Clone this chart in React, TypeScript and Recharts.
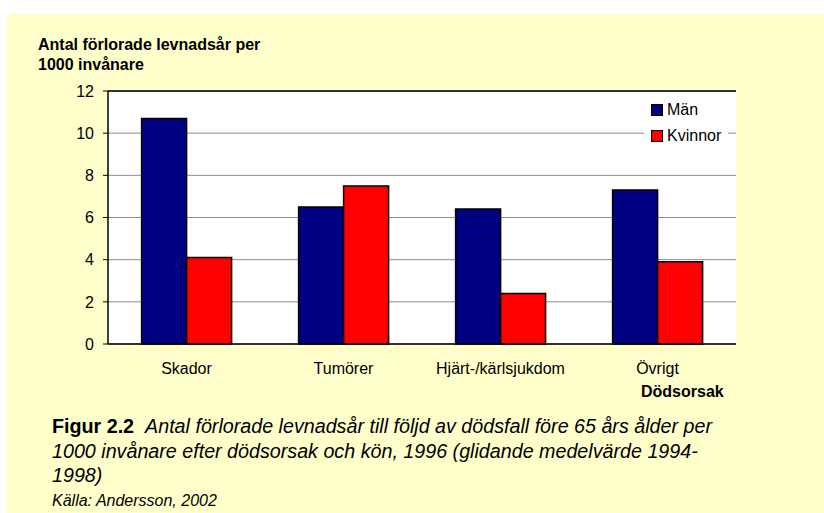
import React from "react";
import {
  BarChart,
  Bar,
  XAxis,
  YAxis,
  CartesianGrid,
  Legend,
  ReferenceLine,
} from "recharts";

// värden
const orsaker = ["Skador", "Tumörer", "Hjärt-/kärlsjukdom", "Övrigt"];
const man = [10.7, 6.5, 6.4, 7.3];
const kvinnor = [4.1, 7.5, 2.4, 3.9];
const yTicks = [0, 2, 4, 6, 8, 10, 12];

const serier = [
  { key: "man", namn: "Män", farg: "#000080" },
  { key: "kvinnor", namn: "Kvinnor", farg: "#FF0000" },
];

const dados = orsaker.map((orsak, i) => ({
  orsak,
  man: man[i],
  kvinnor: kvinnor[i],
}));

const FONT = '"Liberation Sans", Arial, sans-serif';

function Forklaring() {
  return (
    <div
      style={{
        background: "#fff",
        width: 84,
        padding: "0 0 0 7px",
        boxSizing: "border-box",
        fontFamily: FONT,
        fontSize: 16,
        color: "#000",
      }}
    >
      {serier.map((s) => (
        <div
          key={s.key}
          style={{ display: "flex", alignItems: "center", height: 26 }}
        >
          <span
            style={{
              display: "inline-block",
              width: 10,
              height: 10,
              background: s.farg,
              border: "1px solid #000",
              marginRight: 4,
            }}
          />
          {s.namn}
        </div>
      ))}
    </div>
  );
}

export default function App() {
  return (
    <div
      style={{
        position: "absolute",
        left: 0,
        top: 0,
        width: 824,
        height: 513,
        background: "#fff",
        fontFamily: FONT,
        overflow: "hidden",
      }}
    >
      <div
        style={{
          position: "absolute",
          left: 7,
          top: 14,
          width: 817,
          height: 499,
          background: "#FFFFCC",
        }}
      />
      <div
        style={{
          position: "absolute",
          left: 38,
          top: 35,
          fontSize: 16,
          fontWeight: "bold",
          lineHeight: "20px",
          color: "#000",
        }}
      >
        Antal förlorade levnadsår per
        <br />
        1000 invånare
      </div>
      <div style={{ position: "absolute", left: 0, top: 0 }}>
        <BarChart
          width={824}
          height={513}
          data={dados}
          margin={{ top: 91, right: 88, bottom: 139, left: 8 }}
          barCategoryGap="21.4%"
          barGap={0}
        >
          <CartesianGrid
            vertical={false}
            stroke="#8c8c8c"
            fill="#fff"
            fillOpacity={1}
          />
          <XAxis
            dataKey="orsak"
            height={30}
            tickLine={false}
            axisLine={{ stroke: "#000", strokeWidth: 1.5 }}
            tick={{ fill: "#000", fontSize: 16, fontFamily: FONT }}
            tickMargin={13}
            interval={0}
          />
          <YAxis
            width={100}
            domain={[0, 12]}
            ticks={yTicks}
            interval={0}
            tickSize={5}
            tickMargin={9}
            axisLine={{ stroke: "#000", strokeWidth: 1.5 }}
            tickLine={{ stroke: "#000" }}
            tick={{ fill: "#000", fontSize: 16, fontFamily: FONT }}
          />
          <YAxis
            yAxisId="hoger"
            orientation="right"
            width={0}
            domain={[0, 12]}
            tick={false}
            tickLine={false}
            axisLine={{ stroke: "#000", strokeWidth: 1.5 }}
          />
          <ReferenceLine y={12} stroke="#000" strokeWidth={1.5} />
          <Legend
            layout="vertical"
            align="center"
            verticalAlign="middle"
            content={() => <Forklaring />}
            wrapperStyle={{ left: 644, top: 97, width: 84 }}
          />
          {serier.map((s) => (
            <Bar
              key={s.key}
              dataKey={s.key}
              name={s.namn}
              fill={s.farg}
              stroke="#000"
              strokeWidth={1.5}
              isAnimationActive={false}
            />
          ))}
        </BarChart>
      </div>
      <div
        style={{
          position: "absolute",
          left: 641,
          top: 383,
          fontSize: 16,
          fontWeight: "bold",
          color: "#000",
        }}
      >
        Dödsorsak
      </div>
      <div
        style={{
          position: "absolute",
          left: 52,
          top: 414,
          fontSize: 19.7,
          lineHeight: "24.5px",
          color: "#000",
          whiteSpace: "nowrap",
        }}
      >
        <b>Figur 2.2</b>
        <i style={{ marginLeft: 11 }}>
          Antal förlorade levnadsår till följd av dödsfall före 65 års ålder
          per
        </i>
        <br />
        <i>
          1000 invånare efter dödsorsak och kön, 1996 (glidande medelvärde
          1994-
        </i>
        <br />
        <i>1998)</i>
      </div>
      <div
        style={{
          position: "absolute",
          left: 52,
          top: 492,
          fontSize: 16,
          fontStyle: "italic",
          color: "#000",
        }}
      >
        Källa: Andersson, 2002
      </div>
    </div>
  );
}
